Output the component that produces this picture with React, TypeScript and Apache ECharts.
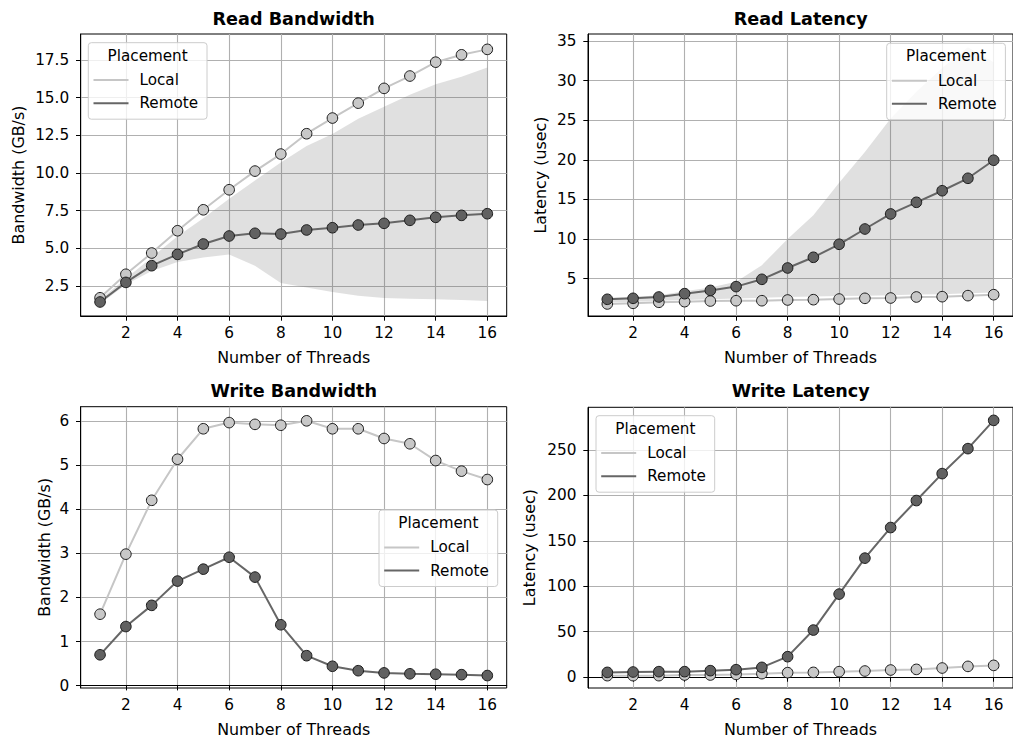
import React, { useEffect, useRef } from "react";
import * as echarts from "echarts";

const threads = [1, 2, 3, 4, 5, 6, 7, 8, 9, 10, 11, 12, 13, 14, 15, 16];

const readBwLocal = [1.72, 3.28, 4.69, 6.17, 7.56, 8.89, 10.13, 11.26, 12.61, 13.65, 14.64, 15.62, 16.44, 17.36, 17.85, 18.21];
const readBwRemote = [1.44, 2.74, 3.85, 4.6, 5.29, 5.82, 6.0, 5.95, 6.22, 6.37, 6.55, 6.66, 6.86, 7.06, 7.19, 7.3];
const readBwRemoteLo = [1.3, 2.6, 3.5, 4.1, 4.4, 4.6, 3.85, 2.7, 2.4, 2.1, 1.85, 1.7, 1.65, 1.62, 1.57, 1.5];
const readBwRemoteHi = [1.6, 3.0, 4.4, 5.8, 7.0, 8.3, 9.5, 10.7, 11.8, 12.6, 13.6, 14.4, 15.2, 15.9, 16.4, 17.0];

const readLatLocal = [1.81, 1.89, 2.02, 2.1, 2.18, 2.22, 2.22, 2.31, 2.35, 2.43, 2.52, 2.56, 2.69, 2.73, 2.86, 2.98];
const readLatRemote = [2.4, 2.52, 2.69, 3.11, 3.52, 4.0, 4.92, 6.35, 7.7, 9.34, 11.27, 13.17, 14.64, 16.1, 17.67, 19.95];
const readLatRemoteLo = [2.0, 2.1, 2.2, 2.3, 2.4, 2.5, 2.6, 2.7, 2.75, 2.8, 2.85, 2.9, 3.0, 3.05, 3.15, 3.25];
const readLatRemoteHi = [2.6, 2.7, 2.9, 3.4, 3.9, 4.6, 6.7, 10.0, 13.0, 17.1, 21.0, 25.2, 28.6, 31.6, 34.2, 32.3];

const writeBwLocal = [1.62, 2.98, 4.2, 5.13, 5.82, 5.96, 5.92, 5.9, 6.0, 5.82, 5.82, 5.6, 5.48, 5.1, 4.86, 4.67];
const writeBwRemote = [0.7, 1.34, 1.82, 2.37, 2.64, 2.91, 2.46, 1.38, 0.68, 0.44, 0.34, 0.29, 0.27, 0.26, 0.25, 0.23];

const writeLatLocal = [1.5, 1.5, 1.5, 2.2, 2.2, 2.9, 3.7, 4.8, 5.1, 5.9, 6.6, 7.7, 8.4, 9.9, 11.7, 12.8];
const writeLatRemote = [5.1, 5.5, 5.9, 5.9, 7.0, 8.1, 10.6, 22.4, 51.7, 91.3, 130.9, 164.6, 194.3, 224.0, 251.5, 282.6];

const xTicks = [2, 4, 6, 8, 10, 12, 14, 16];
const readBwTicks = [2.5, 5, 7.5, 10, 12.5, 15, 17.5];
const readLatTicks = [5, 10, 15, 20, 25, 30, 35];
const writeBwTicks = [0, 1, 2, 3, 4, 5, 6];
const writeLatTicks = [0, 50, 100, 150, 200, 250];

const titles = ["Read Bandwidth", "Read Latency", "Write Bandwidth", "Write Latency"];
const yNames = ["Bandwidth (GB/s)", "Latency (usec)", "Bandwidth (GB/s)", "Latency (usec)"];
const xName = "Number of Threads";
const legendTitle = "Placement";
const seriesNames = ["Local", "Remote"];

const FONT = "DejaVu Sans";
const LOCAL = "#c6c6c6";
const REMOTE = "#666666";
const BAND = "rgba(99,99,99,0.2)";

const grids = [
  { left: 80.7, top: 34, width: 426, height: 282 },
  { left: 588, top: 34, width: 426, height: 282 },
  { left: 80.7, top: 406.7, width: 426, height: 281.6 },
  { left: 588, top: 407.3, width: 426, height: 281 },
];
const yRanges = [
  [0.51, 19.23],
  [0.29, 35.88],
  [-0.052, 6.32],
  [-12.1, 297],
];
const yTickSets = [readBwTicks, readLatTicks, writeBwTicks, writeLatTicks];
const yNameGaps = [54, 40, 28, 51];
const legendBoxes = [
  [88.3, 42.7],
  [886.7, 43.3],
  [379, 510],
  [596, 415.7],
];

const TICK = 15.3;

function App() {
  const ref = useRef<HTMLDivElement>(null);
  useEffect(() => {
    if (!ref.current) return;
    const chart = echarts.init(ref.current, undefined, { renderer: "svg" });

    const xAxis = grids.map((_, i) => ({
      type: "value",
      gridIndex: i,
      min: 0.25,
      max: 16.75,
      name: xName,
      nameLocation: "middle",
      nameGap: 33,
      nameTextStyle: { fontFamily: FONT, fontSize: 15.9, color: "#000" },
      axisLine: { show: true, lineStyle: { color: "#000", width: 1 } },
      axisTick: { show: true, customValues: xTicks, length: 4.7, lineStyle: { color: "#000", width: 1 } },
      axisLabel: { show: true, customValues: xTicks, margin: 9.5, fontFamily: FONT, fontSize: TICK, color: "#000" },
      splitLine: { show: true, customValues: xTicks, lineStyle: { color: "#b0b0b0", width: 1.1 } },
    }));

    const yAxis = grids.map((_, i) => ({
      type: "value",
      gridIndex: i,
      min: yRanges[i][0],
      max: yRanges[i][1],
      name: yNames[i],
      nameLocation: "middle",
      nameGap: yNameGaps[i],
      nameTextStyle: { fontFamily: FONT, fontSize: 15.9, color: "#000" },
      axisLine: { show: true, lineStyle: { color: "#000", width: 1 } },
      axisTick: { show: true, customValues: yTickSets[i], length: 4.7, lineStyle: { color: "#000", width: 1 } },
      axisLabel: {
        show: true,
        customValues: yTickSets[i],
        margin: 11.5,
        fontFamily: FONT,
        fontSize: TICK,
        color: "#000",
        formatter: (v: number) => (i === 0 ? v.toFixed(1) : String(v)),
      },
      splitLine: { show: true, customValues: yTickSets[i], lineStyle: { color: "#b0b0b0", width: 1.1 } },
    }));

    const band = (gi: number, lo: number[], hi: number[]) => ({
      type: "custom",
      xAxisIndex: gi,
      yAxisIndex: gi,
      silent: true,
      z: 2,
      data: threads.map((t, k) => [t, lo[k], hi[k]]),
      encode: { x: 0, y: [1, 2] },
      renderItem: (params: any, api: any) => {
        if (params.dataIndex !== 0) return null;
        const pts: number[][] = [];
        for (let k = 0; k < threads.length; k++) pts.push(api.coord([threads[k], hi[k]]));
        for (let k = threads.length - 1; k >= 0; k--) pts.push(api.coord([threads[k], lo[k]]));
        return { type: "polygon", shape: { points: pts }, style: { fill: BAND, stroke: "none" } };
      },
    });

    const line = (gi: number, name: string, vals: number[], color: string, fill: string) => ({
      type: "line",
      name,
      xAxisIndex: gi,
      yAxisIndex: gi,
      data: threads.map((t, k) => [t, vals[k]]),
      symbol: "circle",
      symbolSize: 10.6,
      showSymbol: true,
      z: 3,
      lineStyle: { color, width: 2 },
      itemStyle: { color: fill, borderColor: "#1a1a1a", borderWidth: 1 },
      emphasis: { disabled: true },
      silent: true,
    });

    const series: any[] = [
      line(0, "Local", readBwLocal, LOCAL, "#c8c8c8"),
      band(0, readBwRemoteLo, readBwRemoteHi),
      line(0, "Remote", readBwRemote, REMOTE, "#616161"),
      line(1, "Local", readLatLocal, LOCAL, "#c8c8c8"),
      band(1, readLatRemoteLo, readLatRemoteHi),
      line(1, "Remote", readLatRemote, REMOTE, "#616161"),
      line(2, "Local", writeBwLocal, LOCAL, "#c8c8c8"),
      line(2, "Remote", writeBwRemote, REMOTE, "#616161"),
      line(3, "Local", writeLatLocal, LOCAL, "#c8c8c8"),
      line(3, "Remote", writeLatRemote, REMOTE, "#616161"),
    ];

    const title = grids.map((g, i) => ({
      text: titles[i],
      left: g.left + g.width / 2 - (i % 2 === 1 ? 0.3 : 0),
      top: i < 2 ? 10 : 382,
      textAlign: "center",
      padding: 0,
      textStyle: { fontFamily: FONT, fontSize: 17.6, fontWeight: "bold", color: "#000" },
    }));

    const legend = legendBoxes.map(([bx, by]) => ({
      orient: "vertical",
      left: bx + 5.2,
      top: by + 29.9,
      padding: 0,
      itemGap: 8.1,
      itemWidth: 35,
      itemHeight: 2,
      icon: "rect",
      z: 60,
      selectedMode: false,
      itemStyle: { borderWidth: 0 },
      textStyle: { fontFamily: FONT, fontSize: 15.2, color: "#000", padding: [0, 0, 0, 6] },
      data: [
        { name: seriesNames[0], itemStyle: { color: LOCAL, borderWidth: 0, borderColor: LOCAL } },
        { name: seriesNames[1], itemStyle: { color: REMOTE, borderWidth: 0, borderColor: REMOTE } },
      ],
    }));

    const graphic: any[] = [];
    legendBoxes.forEach(([bx, by]) => {
      graphic.push({
        type: "rect",
        z: 50,
        silent: true,
        shape: { x: bx, y: by, width: 118.7, height: 76.5, r: 3 },
        style: { fill: "rgba(255,255,255,0.8)", stroke: "#cccccc", lineWidth: 1 },
      });
      graphic.push({
        type: "text",
        z: 51,
        silent: true,
        x: bx + 59.35,
        y: by + 13,
        style: {
          text: legendTitle,
          fontFamily: FONT,
          fontSize: 15.2,
          fill: "#000",
          align: "center",
          verticalAlign: "middle",
        },
      });
    });

    chart.setOption({
      animation: false,
      backgroundColor: "#fff",
      title,
      grid: grids.map((g) => ({ ...g, show: true, borderColor: "#000", borderWidth: 1, backgroundColor: "transparent" })),
      xAxis,
      yAxis,
      legend,
      series,
      graphic,
    });
    return () => chart.dispose();
  }, []);
  return <div ref={ref} style={{ position: "fixed", left: 0, top: 0, width: 1013, height: 738 }} />;
}

export default App;
